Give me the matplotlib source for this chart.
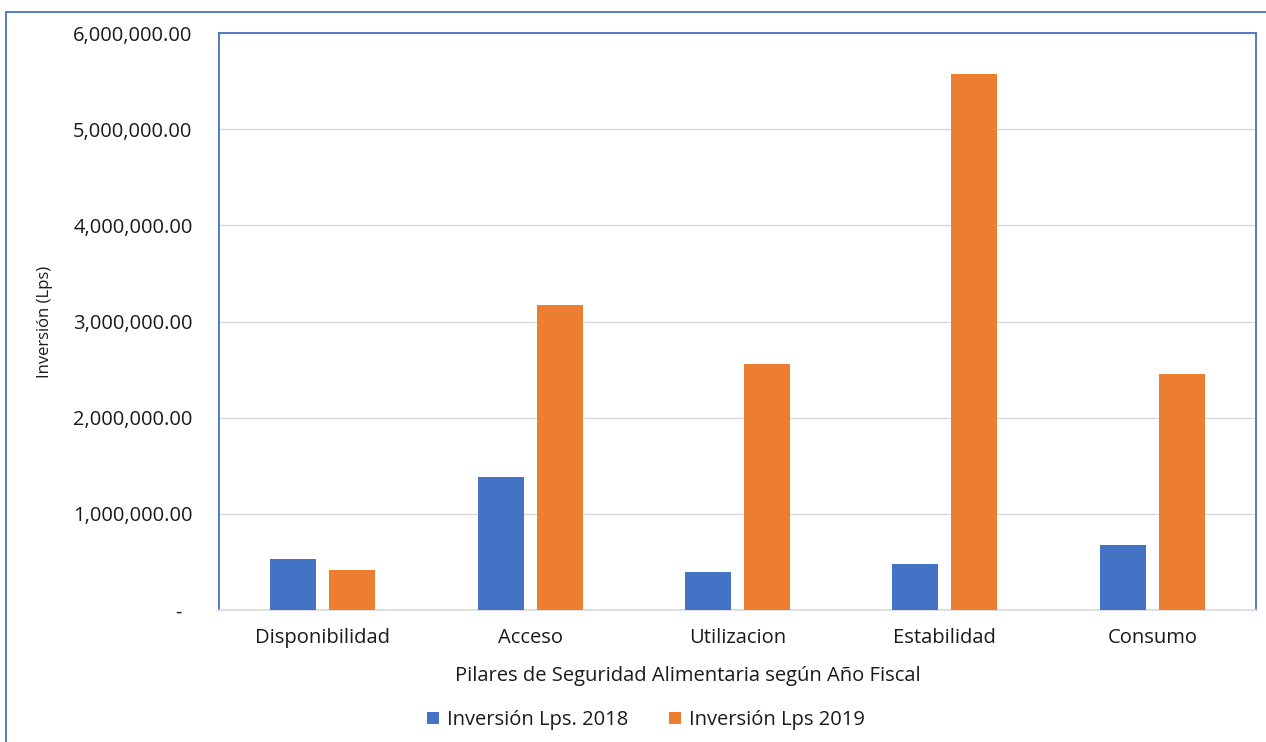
import matplotlib.pyplot as plt
import numpy as np
from matplotlib.patches import Rectangle
from matplotlib.ticker import FuncFormatter

plt.rcParams['font.family'] = ['Open Sans', 'DejaVu Sans']

pilares = ['Disponibilidad', 'Acceso', 'Utilizacion', 'Estabilidad', 'Consumo']
inversion_2018 = [530000, 1380000, 395000, 478000, 676000]
inversion_2019 = [416000, 3170000, 2560000, 5570000, 2450000]

azul = '#4472C4'
naranja = '#ED7D31'


def formato_lps(v, pos):
    if v == 0:
        return '-  '
    return f'{v:,.2f}'


fig = plt.figure(figsize=(12.66, 7.42), dpi=100)
ax = fig.add_axes([219 / 1266, 1 - 610 / 742, (1256 - 219) / 1266, (610 - 33) / 742])

x = np.arange(len(pilares))
ancho = 0.222
ax.bar(x - 0.142, inversion_2018, ancho, color=azul, label='Inversión Lps. 2018', zorder=3)
ax.bar(x + 0.142, inversion_2019, ancho, color=naranja, label='Inversión Lps 2019', zorder=3)

ax.set_xlim(-0.5, len(pilares) - 0.5)
ax.set_ylim(0, 6000000)
ax.set_yticks(np.arange(0, 6000001, 1000000))
ax.yaxis.set_major_formatter(FuncFormatter(formato_lps))
ax.set_xticks(x)
ax.set_xticklabels(pilares)
ax.tick_params(axis='y', length=0, pad=19, labelsize=14.5, labelcolor='#1a1a1a')
ax.tick_params(axis='x', length=0, pad=13, labelsize=14.5, labelcolor='#1a1a1a')
ax.grid(axis='y', color='#D9D9D9', linewidth=1, zorder=0)

for lado in ['left', 'top', 'right']:
    ax.spines[lado].set_color(azul)
    ax.spines[lado].set_linewidth(1.3)
ax.spines['bottom'].set_color('#D9D9D9')
ax.spines['bottom'].set_linewidth(1.2)

ax.set_ylabel('Inversión (Lps)', fontsize=12, color='#1a1a1a')
ax.yaxis.set_label_coords(-166 / 1037, 0.5)
ax.set_xlabel('Pilares de Seguridad Alimentaria según Año Fiscal', fontsize=14.5, color='#1a1a1a')
ax.xaxis.set_label_coords((688 - 219) / 1037, -(666 - 610) / 577)

ax.legend(loc='center', bbox_to_anchor=((646 - 219) / 1037, -(720 - 610) / 577),
          ncol=2, frameon=False, fontsize=14.5, handlelength=0.6, handleheight=0.6,
          columnspacing=2.0, handletextpad=0.4, labelcolor='#1a1a1a')

# marco exterior del gráfico
fig.patches.append(Rectangle((6 / 1266, -0.1), 1.1, 0.1 + 1 - 12 / 742,
                             transform=fig.transFigure, fill=False,
                             edgecolor=azul, linewidth=1.3))

fig.savefig('out.png', dpi=100)
